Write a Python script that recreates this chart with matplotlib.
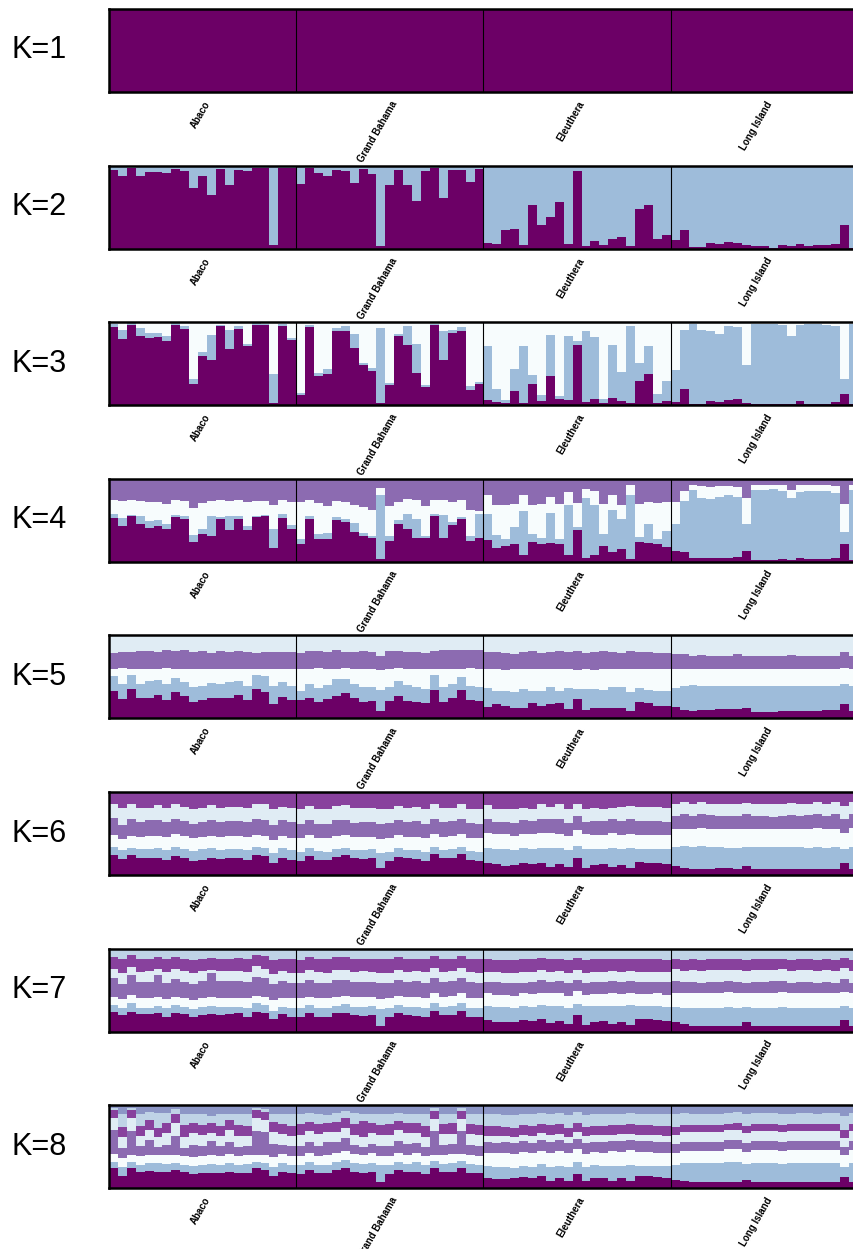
import numpy as np
import matplotlib
matplotlib.use("Agg")
import matplotlib.pyplot as plt
from matplotlib.transforms import blended_transform_factory

populations = ["Abaco", "Grand Bahama", "Eleuthera", "Long Island"]
n_per_pop = [21, 21, 21, 21]
# cluster colours, bottom layer first
cluster_colors = ["#6c0066", "#9ebcda", "#f7fcfd", "#8c6bb1",
                  "#e0ecf4", "#88419d", "#bfd3e6", "#8c96c6"]

# membership (%) per individual, columns = clusters 1..K
Q1 = [[100] for _ in range(84)]

Q2 = [
    # Abaco
    [95,5],[87,13],[97,3],[88,12],[92,8],[92,8],[91,9],[96,4],[94,6],[73,27],[88,12],
    [65,35],[96,4],[77,23],[95,5],[94,6],[97,3],[97,3],[4,96],[97,3],[97,3],
    # Grand Bahama
    [78,22],[97,3],[91,9],[87,13],[95,5],[94,6],[79,21],[96,4],[90,10],[3,97],[77,23],
    [95,5],[77,23],[57,43],[94,6],[97,3],[61,39],[95,5],[95,5],[80,20],[96,4],
    # Eleuthera
    [7,93],[6,94],[22,78],[24,76],[4,96],[53,47],[29,71],[38,62],[56,44],[6,94],[93,7],
    [3,97],[9,91],[4,96],[12,88],[14,86],[3,97],[48,52],[52,48],[12,88],[16,84],
    # Long Island
    [10,90],[23,77],[2,98],[2,98],[7,93],[6,94],[8,92],[7,93],[4,96],[3,97],[3,97],
    [1,99],[4,96],[3,97],[6,94],[3,97],[4,96],[4,96],[5,95],[28,72],[1,99],
]

Q3 = [
    # Abaco
    [94,4,2],[80,11,9],[97,2,1],[83,10,7],[81,6,13],[82,5,13],[77,6,17],[97,2,1],[92,3,5],
    [25,7,68],[59,5,36],[54,30,16],[95,2,3],[68,23,9],[92,3,5],[71,3,26],[97,2,1],[97,1,2],
    [3,35,62],[95,3,2],[78,3,19],
    # Grand Bahama
    [12,3,85],[94,3,3],[35,4,61],[38,6,56],[90,3,7],[89,6,5],[69,17,14],[49,2,49],[41,4,55],
    [3,90,7],[24,3,73],[83,3,14],[73,22,5],[39,35,26],[22,2,76],[97,1,2],[54,35,11],[87,4,9],
    [90,4,6],[18,5,77],[25,3,72],
    # Eleuthera
    [6,65,29],[4,16,80],[3,3,94],[17,27,56],[3,68,29],[25,11,64],[5,7,88],[35,50,15],[8,3,89],
    [6,77,17],[72,5,23],[4,86,10],[8,74,18],[3,5,92],[9,64,27],[5,35,60],[3,92,5],[29,22,49],
    [38,33,29],[3,10,87],[5,24,71],
    # Long Island
    [4,38,58],[19,72,9],[2,96,2],[2,89,9],[5,84,11],[4,82,14],[6,89,5],[7,87,6],[3,45,52],
    [2,96,2],[2,96,2],[2,96,2],[2,95,3],[2,81,17],[5,92,3],[2,96,2],[2,96,2],[2,95,3],
    [4,92,4],[13,19,68],[2,96,2],
]

Q4 = [
    # Abaco
    [53,4,17,26],[43,10,20,27],[55,1,18,26],[46,9,18,27],[41,8,23,28],[43,7,22,28],[40,6,24,30],
    [54,2,18,26],[51,4,18,27],[24,8,33,35],[33,6,32,29],[31,24,18,27],[51,3,20,26],[38,17,18,27],
    [51,4,19,26],[38,5,29,28],[54,1,18,27],[55,1,17,27],[17,23,29,31],[53,4,17,26],[40,4,28,28],
    # Grand Bahama
    [22,5,45,28],[52,3,19,26],[28,5,38,29],[28,7,32,33],[50,4,19,27],[48,4,20,28],[35,11,22,31],
    [31,4,31,34],[29,2,31,38],[3,78,8,11],[25,6,36,33],[46,4,22,28],[40,17,19,24],[29,22,23,26],
    [29,2,36,33],[55,3,17,25],[29,27,19,25],[44,4,24,28],[51,3,20,26],[25,6,32,37],[28,29,4,38],
    # Eleuthera
    [26,32,22,20],[17,15,37,31],[19,8,41,32],[21,21,28,30],[8,53,20,19],[24,10,34,32],[22,7,41,30],
    [23,36,19,22],[21,6,43,30],[8,60,16,16],[38,4,29,29],[5,72,11,12],[8,60,17,15],[19,15,36,30],
    [12,50,19,19],[15,37,17,31],[3,78,11,8],[24,6,40,30],[23,22,27,28],[21,7,43,29],[18,19,35,28],
    # Long Island
    [13,33,26,28],[12,61,12,15],[5,82,6,7],[4,73,14,9],[5,71,14,10],[4,74,13,9],[5,75,11,9],
    [6,72,12,10],[13,33,31,23],[2,84,7,7],[2,84,7,7],[2,86,5,7],[3,82,8,7],[2,75,10,13],
    [4,80,8,8],[3,82,8,7],[3,82,8,7],[3,82,7,8],[4,79,8,9],[21,15,34,30],[2,85,6,7],
]

Q5 = [
    # Abaco
    [33,18,8,20,21],[23,18,20,19,20],[35,17,7,21,20],[24,17,19,21,19],[24,21,15,21,19],
    [28,18,13,21,20],[22,19,20,21,18],[32,17,10,22,19],[27,17,15,23,18],[20,18,22,20,20],
    [22,17,21,21,19],[24,19,17,19,21],[24,18,17,22,19],[24,20,16,20,20],[28,17,15,21,19],
    [22,17,21,20,20],[35,17,7,20,21],[32,19,8,21,20],[17,22,20,21,20],[26,18,15,21,20],
    [22,17,20,21,20],
    # Grand Bahama
    [22,11,26,20,21],[25,17,17,22,19],[20,17,24,20,19],[24,17,19,21,20],[27,20,13,22,18],
    [30,17,13,19,20],[24,17,19,20,20],[20,18,22,21,19],[21,17,21,21,20],[9,25,24,17,25],
    [21,17,22,21,19],[27,18,16,20,19],[21,19,20,20,20],[20,18,22,20,20],[18,18,23,20,21],
    [34,18,8,21,19],[20,18,22,22,18],[24,17,19,22,18],[34,16,10,22,18],[22,17,22,22,17],
    [21,17,22,23,17],
    # Eleuthera
    [14,23,22,21,20],[17,16,26,21,20],[15,18,25,21,21],[13,19,27,18,23],[13,22,24,21,20],
    [18,15,26,22,19],[15,18,26,20,21],[17,21,21,21,20],[18,15,26,22,19],[11,26,23,20,20],
    [23,12,23,23,19],[10,25,24,20,21],[13,22,23,22,20],[13,21,25,22,19],[13,25,21,21,20],
    [13,25,21,20,21],[9,23,28,21,19],[20,17,23,21,20],[18,16,25,21,20],[15,18,26,20,21],
    [15,18,26,20,21],
    # Long Island
    [14,23,23,18,22],[10,29,21,17,23],[9,31,20,15,25],[10,29,21,16,24],[10,29,21,15,25],
    [11,28,21,15,25],[11,28,21,15,25],[11,28,21,18,22],[12,27,21,15,25],[8,31,21,15,25],
    [8,31,21,15,25],[8,31,21,15,25],[9,30,21,15,25],[9,30,21,16,24],[9,30,21,15,25],
    [9,30,21,15,25],[9,30,21,15,25],[10,29,21,15,25],[10,29,21,15,25],[17,24,20,19,20],
    [9,30,21,15,25],
]

Q6 = [
    # Abaco
    [24,10,15,20,18,14],[20,10,14,17,21,19],[24,9,15,20,19,14],[20,11,15,18,17,19],
    [20,11,16,19,15,19],[21,11,15,19,18,16],[18,12,16,18,17,19],[23,11,15,19,17,15],
    [21,11,15,19,17,18],[17,12,15,18,17,21],[18,13,15,18,17,19],[20,12,15,19,18,16],
    [20,11,15,18,18,19],[20,11,15,18,17,18],[21,11,15,19,17,18],[18,12,16,18,17,19],
    [24,10,15,19,19,14],[23,10,15,19,20,14],[15,12,15,18,19,21],[21,11,15,19,16,18],
    [18,12,15,19,17,20],
    # Grand Bahama
    [17,11,16,18,18,20],[23,9,16,18,17,17],[18,11,15,18,18,20],[18,10,16,18,17,21],
    [22,9,16,19,17,17],[24,9,15,18,18,16],[20,10,16,17,18,19],[19,11,16,18,17,19],
    [20,11,15,18,17,19],[9,18,16,19,18,20],[17,11,17,18,17,20],[22,10,16,18,17,17],
    [20,10,16,18,17,19],[19,11,16,19,17,18],[17,11,16,18,18,20],[25,9,15,19,18,14],
    [20,10,16,18,17,19],[20,11,16,18,16,19],[25,9,15,19,18,14],[18,11,16,18,17,20],
    [17,11,16,18,18,20],
    # Eleuthera
    [14,19,18,16,17,16],[13,18,18,15,15,21],[11,20,18,15,15,21],[12,18,17,16,16,21],
    [14,18,18,16,15,19],[13,18,18,16,15,20],[15,18,18,17,18,14],[10,22,19,17,14,18],
    [13,19,18,17,19,14],[10,20,17,16,16,21],[21,14,19,17,15,14],[9,22,18,15,15,21],
    [12,19,17,17,15,19],[13,18,17,16,15,20],[10,22,18,17,13,19],[12,19,17,17,16,18],
    [9,24,17,18,15,17],[15,16,17,16,17,18],[15,16,17,17,17,18],[14,17,17,17,17,18],
    [13,18,17,16,17,19],
    # Long Island
    [11,23,21,16,15,14],[9,26,21,17,15,12],[7,27,21,16,14,15],[7,28,22,16,15,12],
    [7,27,22,16,14,14],[8,26,22,15,15,14],[8,25,22,16,15,14],[7,26,22,16,14,15],
    [11,23,22,17,14,13],[7,27,22,16,15,14],[7,27,22,16,15,14],[7,27,22,15,15,15],
    [7,27,22,16,14,15],[7,27,22,16,15,13],[7,27,22,16,15,14],[7,26,23,16,14,14],
    [7,27,23,17,14,12],[7,26,22,16,15,14],[7,27,22,17,15,12],[14,17,20,16,16,17],
    [7,27,23,17,14,12],
]

Q7 = [
    # Abaco
    [24,8,10,22,12,14,10],[20,8,11,18,14,17,12],[24,10,10,24,10,14,8],[21,8,11,20,12,15,13],
    [21,8,11,20,13,15,12],[22,9,11,26,7,15,10],[18,10,11,20,13,15,13],[23,9,10,21,12,15,10],
    [21,9,10,20,13,15,12],[17,10,11,19,13,16,14],[20,10,11,20,12,15,12],[21,10,11,28,4,15,11],
    [20,10,11,20,12,15,12],[21,9,11,20,12,15,12],[22,8,11,20,12,16,11],[18,10,12,20,12,15,13],
    [24,10,9,23,13,13,8],[22,10,10,22,12,15,9],[15,10,13,19,12,17,14],[21,9,11,20,12,15,12],
    [18,10,12,19,12,16,13],
    # Grand Bahama
    [17,11,12,19,12,15,14],[22,10,10,20,12,16,10],[18,11,12,18,13,15,13],[18,10,12,19,12,16,13],
    [22,9,11,20,12,16,10],[23,10,10,19,12,16,10],[20,10,12,18,12,16,12],[19,11,12,18,13,15,12],
    [20,11,11,18,12,16,12],[7,20,12,19,12,17,13],[17,11,12,19,12,16,13],[22,10,11,19,12,16,10],
    [20,10,12,18,12,16,12],[19,11,12,19,12,15,12],[17,11,12,19,13,15,13],[25,10,12,18,12,14,9],
    [20,10,12,18,12,16,12],[20,11,12,18,12,15,12],[25,10,12,18,12,14,9],[18,11,12,19,12,15,13],
    [17,11,12,19,12,16,13],
    # Eleuthera
    [14,17,15,14,12,15,13],[12,18,15,15,12,15,14],[11,19,14,14,13,15,14],[12,17,14,15,12,16,14],
    [14,17,15,13,13,15,13],[13,17,15,15,12,15,13],[15,17,15,15,12,15,11],[10,21,15,14,12,16,12],
    [13,18,15,14,12,15,12],[9,20,14,15,12,16,14],[20,14,15,14,12,15,11],[8,22,14,14,12,15,14],
    [12,18,15,14,12,15,13],[13,18,14,15,12,15,13],[9,22,15,14,12,15,12],[12,18,15,14,12,15,13],
    [8,24,15,14,12,15,12],[15,15,15,14,12,15,13],[15,15,15,14,12,15,13],[14,17,15,14,12,15,13],
    [13,17,15,15,12,15,14],
    # Long Island
    [11,19,17,14,14,13,12],[9,20,18,13,13,13,14],[7,22,18,13,14,13,13],[7,22,18,12,14,13,14],
    [7,22,18,13,14,13,13],[7,22,18,13,14,13,13],[7,22,18,13,14,13,12],[7,22,18,13,14,13,13],
    [11,19,17,12,14,13,14],[7,22,18,13,14,13,13],[7,22,18,13,14,13,13],[7,22,18,14,13,13,13],
    [7,23,18,13,14,13,12],[7,22,18,12,14,13,14],[7,22,18,13,14,13,13],[7,22,18,13,14,13,13],
    [7,22,18,12,14,13,14],[7,22,18,13,14,13,13],[7,22,18,12,14,13,14],[14,17,17,15,14,12,11],
    [7,22,18,12,14,13,14],
]

Q8 = [
    # Abaco
    [24,7,10,29,15,9,3,3],[15,10,11,12,14,12,15,11],[24,8,8,29,15,10,3,3],[20,8,11,12,12,12,15,10],
    [21,9,10,18,12,12,10,8],[20,10,10,10,12,11,18,9],[20,9,11,12,14,12,13,9],[22,8,10,23,15,12,5,5],
    [19,9,11,10,13,14,14,10],[17,10,11,14,15,12,10,11],[18,10,11,12,13,12,13,11],[18,11,11,17,10,12,8,13],
    [18,10,11,12,12,12,14,11],[20,10,11,15,14,12,7,11],[18,10,11,11,13,13,14,10],[18,11,11,11,12,12,14,11],
    [24,8,8,29,15,10,3,3],[22,8,10,28,14,10,3,5],[15,11,12,15,15,12,9,11],[20,10,11,11,13,12,13,10],
    [18,10,11,12,12,12,14,11],
    # Grand Bahama
    [17,11,11,12,13,13,12,11],[22,10,11,13,13,11,11,9],[18,10,11,12,14,12,13,10],[18,10,12,16,12,11,9,12],
    [22,10,11,13,12,12,11,9],[24,10,11,16,12,12,8,7],[20,10,11,11,12,13,14,9],[18,11,11,10,12,19,9,10],
    [20,10,12,11,13,12,12,10],[8,20,11,12,13,12,13,11],[17,11,11,12,13,13,12,11],[22,10,11,14,13,11,10,9],
    [19,10,11,13,13,12,12,10],[20,11,11,12,12,12,12,10],[17,11,11,11,12,13,14,11],[24,9,7,29,14,10,4,3],
    [19,10,11,12,13,12,12,11],[20,10,11,12,12,13,12,10],[24,9,8,28,14,10,4,3],[18,11,11,12,13,12,13,10],
    [18,10,11,12,13,12,13,11],
    # Eleuthera
    [12,15,15,14,7,12,15,10],[11,15,16,13,8,12,14,11],[11,15,16,14,7,11,14,12],[12,12,17,13,8,11,15,12],
    [13,14,16,13,8,11,14,10],[12,14,16,13,8,12,14,11],[14,15,15,14,8,11,13,9],[9,17,17,13,8,12,14,10],
    [12,15,17,13,8,11,14,9],[9,16,17,12,8,11,15,12],[17,14,16,12,8,11,13,8],[8,17,16,13,8,11,14,12],
    [12,16,16,12,8,11,14,11],[12,14,16,13,8,11,14,11],[9,18,17,12,8,11,14,10],[12,15,17,13,8,11,14,10],
    [8,20,17,12,8,12,13,9],[14,13,16,13,7,12,13,11],[14,13,16,13,8,11,14,10],[13,13,16,13,8,11,14,11],
    [12,14,16,13,7,12,14,11],
    # Long Island
    [10,18,14,11,11,10,15,11],[9,21,15,11,12,8,15,9],[8,22,15,11,12,8,14,10],[8,22,15,11,12,8,13,11],
    [8,22,15,11,12,8,14,10],[8,22,15,11,12,8,14,10],[8,23,16,11,12,7,14,9],[8,23,16,11,12,8,14,8],
    [10,19,15,11,12,8,14,11],[7,23,16,11,12,8,14,9],[7,23,16,11,12,8,14,9],[7,23,16,11,12,8,14,9],
    [7,22,16,11,12,8,14,10],[8,22,16,11,12,8,13,10],[7,23,16,11,12,8,14,9],[8,22,16,11,12,8,14,9],
    [7,23,16,11,12,8,13,10],[8,22,16,11,12,8,14,9],[8,22,16,11,12,8,14,9],[13,13,14,10,10,10,17,13],
    [8,22,16,11,12,8,14,9],
]

Q = {1: Q1, 2: Q2, 3: Q3, 4: Q4, 5: Q5, 6: Q6, 7: Q7, 8: Q8}

W, H = 854, 1249
fig = plt.figure(figsize=(W / 100, H / 100), dpi=100)

n_total = sum(n_per_pop)
bounds = np.cumsum(n_per_pop)[:-1] - 0.5
centers = np.cumsum(n_per_pop) - np.array(n_per_pop) / 2.0 - 0.5

panel_h = 83
for i, K in enumerate(range(1, 9)):
    top = 9 + 156.6 * i
    ax = fig.add_axes([109 / W, 1 - (top + panel_h) / H, 749 / W, panel_h / H])
    q = np.array(Q[K], dtype=float)
    q = q / q.sum(axis=1, keepdims=True)
    x = np.arange(q.shape[0])
    bottom = np.zeros(q.shape[0])
    for k in range(K):
        ax.bar(x, q[:, k], bottom=bottom, width=1.0, color=cluster_colors[k],
               linewidth=0, antialiased=False)
        bottom += q[:, k]
    ax.set_xlim(-0.5, n_total - 0.5)
    ax.set_ylim(0, 1)
    for b in bounds:
        ax.axvline(b, color="black", lw=0.8)
    ax.set_xticks([])
    ax.set_yticks([])
    for s in ax.spines.values():
        s.set_linewidth(1.8)
        s.set_color("black")
    trans = blended_transform_factory(ax.transData, ax.transAxes)
    for c, name in zip(centers, populations):
        ax.text(c + 0.6, -0.12, name, transform=trans, rotation=60, ha="right",
                va="center", rotation_mode="anchor", fontsize=7, fontweight="bold",
                family="Liberation Sans")
    fig.text(12 / W, 1 - (top + panel_h / 2) / H, f"K={K}", fontsize=22,
             ha="left", va="center", family="Liberation Sans")

fig.savefig("out.png", dpi=100)
